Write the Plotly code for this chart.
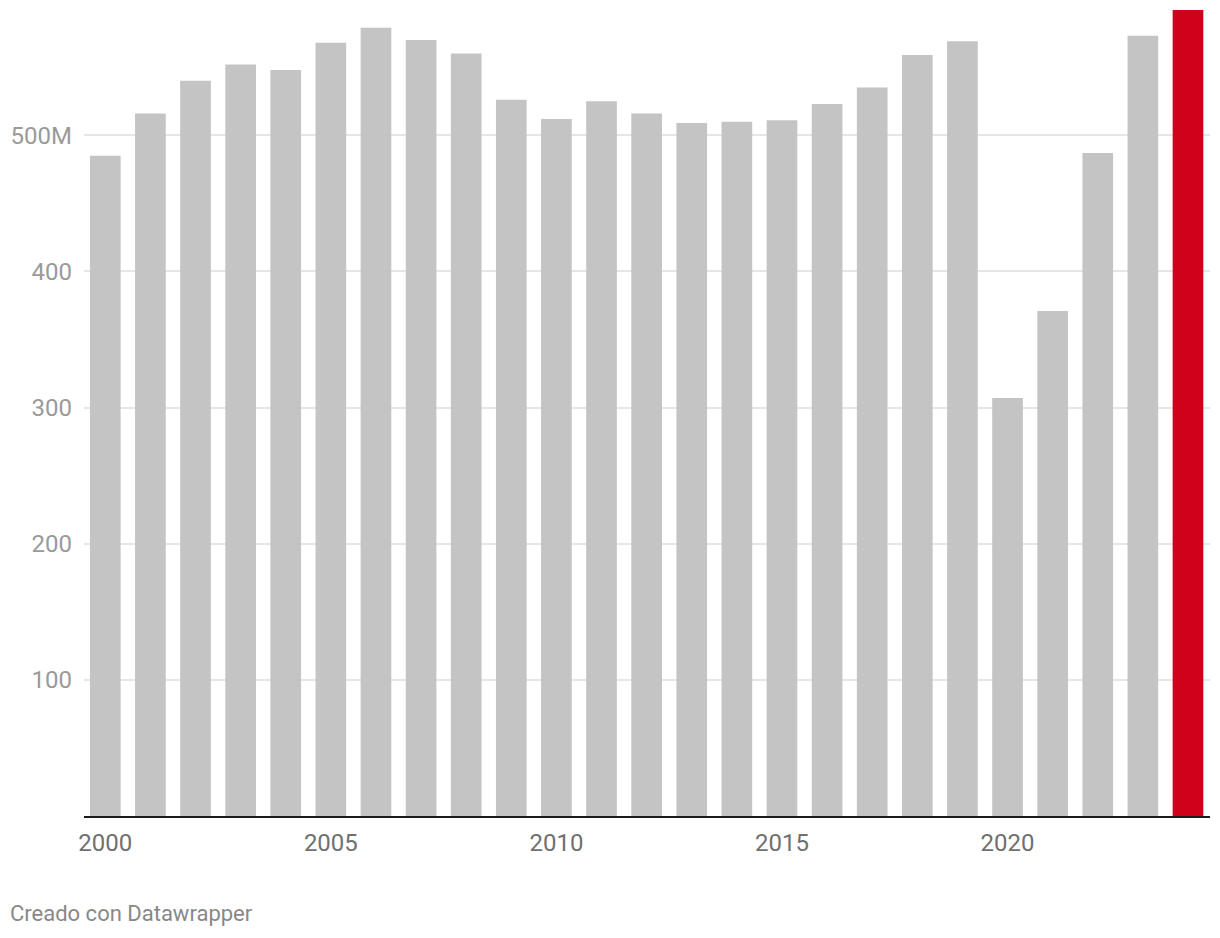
import plotly.graph_objects as go

years = list(range(2000, 2025))
values = [485, 516, 540, 552, 548, 568, 579, 570, 560, 526,
          512, 525, 516, 509, 510, 511, 523, 535, 559, 569,
          307, 371, 487, 573, 592]
highlight_year = 2024
ytick_vals = [100, 200, 300, 400, 500]
ytick_text = ["100", "200", "300", "400", "500M"]
xtick_vals = [2000, 2005, 2010, 2015, 2020]
xtick_text = ["2000", "2005", "2010", "2015", "2020"]

GRAY = "#c4c4c4"
RED = "#d0021b"
colors = [RED if y == highlight_year else GRAY for y in years]

fig = go.Figure(go.Bar(x=years, y=values, marker=dict(color=colors, line=dict(width=0)),
                       hoverinfo="x+y"))

W, H = 1220, 938
L, R, T, B = 84, 10, 10, 122

fig.update_layout(
    width=W, height=H,
    margin=dict(l=L, r=R, t=T, b=B),
    plot_bgcolor="white", paper_bgcolor="white",
    bargap=0.32,
    showlegend=False,
    font=dict(family="Roboto", size=24, color="#666666"),
)
fig.update_xaxes(
    range=[1999.528, 2024.488],
    tickmode="array", tickvals=xtick_vals, ticktext=xtick_text,
    showgrid=False, zeroline=False,
    showline=True, linewidth=2, linecolor="#1a1a1a",
    ticks="", ticklabelstandoff=4,
    tickfont=dict(family="Roboto", size=24, color="#707070"),
)
fig.update_yaxes(
    range=[0, 592],
    tickmode="array", tickvals=ytick_vals, ticktext=ytick_text,
    showgrid=True, gridcolor="#e6e6e6", gridwidth=2,
    zeroline=False, showline=False, ticks="",
    ticklabelstandoff=11,
    tickfont=dict(family="Roboto", size=24, color="#9a9a9a"),
)

fig.add_annotation(
    text="Creado con Datawrapper",
    xref="paper", yref="paper",
    x=(8 - L) / (W - L - R), y=(816 - 914) / (H - T - B),
    xanchor="left", yanchor="middle", showarrow=False,
    font=dict(family="Roboto", size=22, color="#888888"),
)

fig.write_html("out.html", config={"displayModeBar": False},
               post_script="document.body.style.margin='0';")
